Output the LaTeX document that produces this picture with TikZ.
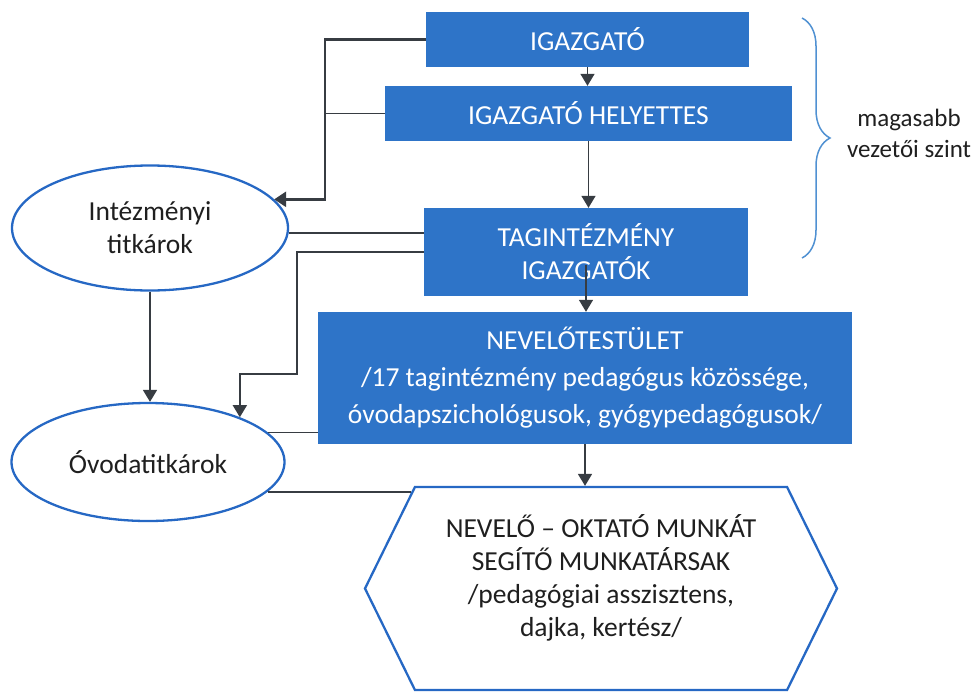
\documentclass[tikz,border=0pt]{standalone}
\usepackage{fontspec}
\setmainfont{Carlito}
\usetikzlibrary{arrows.meta,shapes.geometric,shapes.symbols,decorations.pathreplacing}
\definecolor{boxblue}{RGB}{46,116,200}
\definecolor{lineblue}{RGB}{38,104,196}
\definecolor{linegray}{RGB}{55,60,66}
\definecolor{bracecol}{RGB}{80,145,210}
\tikzset{
  x=1pt, y=-1pt,
  every node/.style={font=\fontsize{27.5}{33}\selectfont},
  bluebox/.style={rectangle, fill=boxblue, text=white, align=center, inner sep=0pt},
  outlined/.style={draw=lineblue, line width=2.3pt, text=black!88, align=center, inner sep=0pt},
  conn/.style={draw=linegray, line width=1.4pt},
  connarr/.style={conn, line width=1.6pt, -{Triangle[width=14pt,length=12pt]}},
  thickarr/.style={draw=linegray, line width=2.8pt, -{Triangle[width=15pt,length=12pt]}}
}
\begin{document}
\begin{tikzpicture}
\useasboundingbox (0,0) rectangle (979,691);

\node[bluebox, minimum width=323pt, minimum height=55pt] (igazgato) at (587.5,39.5) {IGAZGATÓ};
\node[bluebox, minimum width=407pt, minimum height=55pt] (helyettes) at (588.5,113.5) {IGAZGATÓ HELYETTES};
\node[bluebox, minimum width=324pt, minimum height=88pt] (tagint) at (586,252) {TAGINTÉZMÉNY\\IGAZGATÓK};
\node[bluebox, minimum width=534pt, minimum height=132pt, font=\fontsize{27.5}{37}\selectfont] (nevelo) at (585,378)
  {NEVELŐTESTÜLET\\/17 tagintézmény pedagógus közössége,\\óvodapszichológusok, gyógypedagógusok/};
\node[outlined, signal, signal to=east and west, signal pointer angle=127.6,
  minimum width=472pt, minimum height=203pt, text depth=26pt] (segito) at (601,588.5)
  {NEVELŐ – OKTATÓ MUNKÁT\\SEGÍTŐ MUNKATÁRSAK\\/pedagógiai asszisztens,\\dajka, kertész/};

\node[outlined, ellipse, minimum width=276pt, minimum height=125pt] (titkar) at (150,228) {Intézményi\\titkárok};
\node[outlined, ellipse, minimum width=273pt, minimum height=118pt] (ovoda) at (148,462) {Óvodatitkárok};

\coordinate (leftbus) at (325,0);
\coordinate (stepA) at (297,374);

\draw[connarr] (igazgato.south) -- (igazgato.south |- helyettes.north);
\draw[connarr] (helyettes.south) -- (helyettes.south |- tagint.north);
\draw[connarr] ([yshift=31pt]tagint.south) -- (tagint.south |- nevelo.north);
\draw[connarr] (nevelo.south) -- (nevelo.south |- segito.north);

\draw[thickarr] (igazgato.west) -- (igazgato.west -| leftbus) |- (titkar.13);
\draw[conn] (helyettes.west) -- (helyettes.west -| leftbus);
\draw[conn] ([yshift=19pt]tagint.west) -- ([yshift=19pt]tagint.west -| titkar.east);
\draw[connarr] (tagint.west) -| (stepA) -| (ovoda.26);
\draw[connarr] (titkar.south) -- (titkar.south |- ovoda.north);
\draw[conn] (ovoda.14) -- (ovoda.14 -| nevelo.west);
\draw[conn] (ovoda.-14) -- (ovoda.-14 -| segito.153);

\draw[bracecol, line width=1.5pt, decorate, decoration={brace, amplitude=28pt}] (802,18) -- (802,258);
\node[align=center, text=black!88, font=\fontsize{25}{31}\selectfont] (szint) at (909,133) {magasabb\\vezetői szint};
\end{tikzpicture}
\end{document}
